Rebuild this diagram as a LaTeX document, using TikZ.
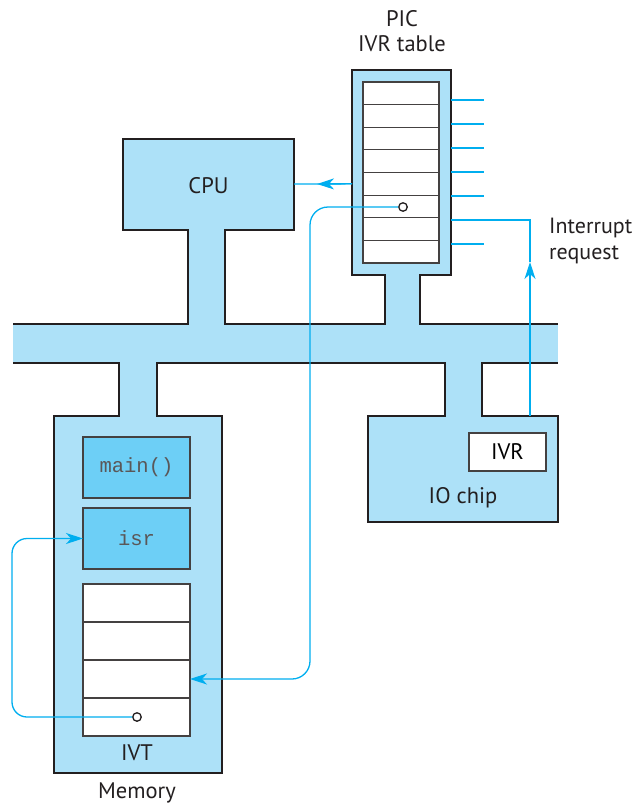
\documentclass[tikz,border=0pt]{standalone}
\usepackage{fontspec}
\setmainfont{PT Sans}
\newfontfamily\monof{Liberation Mono}
\usetikzlibrary{arrows.meta,calc}
\definecolor{lb}{HTML}{ADE1F8}
\definecolor{db}{HTML}{6DCFF6}
\definecolor{cy}{HTML}{00AEEF}
\definecolor{ink}{HTML}{231F20}
\begin{document}
\begin{tikzpicture}[x=1pt,y=-1pt,
  box/.style={draw=ink,line width=2.6pt,fill=lb,inner sep=0pt,outer sep=0pt,anchor=north west},
  outline/.style={draw=ink,line width=2.6pt,line cap=rect},
  stemfill/.style={fill=lb},
  row/.style={draw=ink!85,line width=1.2pt,fill=white,inner sep=0pt,outer sep=0pt,anchor=north west},
  code/.style={draw=ink!85,line width=1.5pt,fill=db,inner sep=0pt,outer sep=0pt,anchor=north west,text=ink!75,font=\monof\fontsize{20.5}{24}\selectfont},
  lbl/.style={font=\fontsize{22.5}{26}\selectfont,text=ink,inner sep=0pt,anchor=base},
  blueline/.style={draw=cy,line width=1.3pt},
  tip/.style={-{Stealth[length=17pt,width=11pt,inset=5pt]}},
  dot/.style={circle,draw=ink,line width=1.3pt,fill=white,minimum size=8.5pt,inner sep=0pt}]
\useasboundingbox (0,0) rectangle (633,803);

% bus
\node[fill=lb,inner sep=0pt,outer sep=0pt,anchor=north west,minimum width=545pt,minimum height=39pt] (bus) at (13,324) {};
\draw[draw=ink,line width=2.6pt] (bus.north west) -- (bus.north east) (bus.south west) -- (bus.south east);

% boxes
\node[box,minimum width=171pt,minimum height=91pt] (cpu) at (123,139) {};
\node[box,minimum width=99pt,minimum height=205pt] (pic) at (352,70) {};
\node[box,minimum width=168pt,minimum height=357pt] (mem) at (54,416) {};
\node[box,minimum width=190pt,minimum height=106pt] (io) at (368,416) {};

% stems
\fill[stemfill] (188,228) rectangle (225,326);
\draw[outline] (188,230) -- (188,324) (225,230) -- (225,324);
\fill[stemfill] (385,273) rectangle (420,326);
\draw[outline] (385,275) -- (385,324) (420,275) -- (420,324);
\fill[stemfill] (119,361) rectangle (157,418);
\draw[outline] (119,363) -- (119,416) (157,363) -- (157,416);
\fill[stemfill] (445,361) rectangle (482,418);
\draw[outline] (445,363) -- (445,416) (482,363) -- (482,416);

% labels
\node[lbl] (cpul) at (208.5,193) {CPU};
\node[lbl] (picl) at (402,26) {PIC};
\node[lbl] (ivrtl) at (402,51) {IVR table};
\node[lbl] (ivtl) at (137,760) {IVT};
\node[lbl] (meml) at (137,798) {Memory};
\node[lbl] (iol) at (463,503) {IO chip};
\node[lbl,anchor=base west,align=left,font=\fontsize{22}{26}\selectfont] (irq) at (549,259) {Interrupt\\request};

% PIC table rows
\node[row,minimum width=76pt,minimum height=22.625pt] (pr1) at (363,82) {};
\foreach \i [remember=\i as \j (initially 1)] in {2,...,8}
  \node[row,minimum width=76pt,minimum height=22.625pt] (pr\i) at (pr\j.south west) {};

% memory contents
\node[code,minimum width=107pt,minimum height=61pt] (main) at (83,437) {main()};
\node[code,minimum width=107pt,minimum height=61pt] (isr) at (83,508) {isr};
\node[row,minimum width=107pt,minimum height=38pt] (iv1) at (83,584) {};
\foreach \i [remember=\i as \j (initially 1)] in {2,...,4}
  \node[row,minimum width=107pt,minimum height=38pt] (iv\i) at (iv\j.south west) {};

% IVR
\node[row,draw=ink!85,minimum width=77pt,minimum height=38pt,font=\fontsize{22.5}{26}\selectfont] (ivr) at (469,433) {IVR};

% PIC input lines
\foreach \y in {100,124,148,172,196,244}
  \draw[blueline] (pic.east |- 0,\y) -- (484,\y);

% interrupt request
\coordinate (irb) at (530,416);
\coordinate (irm) at (530,262);
\coordinate (irt) at (530,220);
\draw[blueline,tip] (irb) -- (irm);
\draw[blueline] (irm) -- (irt) -- (pic.east |- irt);

% PIC to CPU
\coordinate (pcm) at (317,184);
\draw[blueline] (pr5.center -| pic.west) -- (cpu.east |- pcm);
\draw[blueline,tip] (pr5.center -| pic.west) -- (pcm);

% PIC entry to IVT
\node[dot] (d1) at (403,207) {};
\coordinate (c1) at (310,207);
\coordinate (c2) at (310,679);
\draw[blueline,tip,rounded corners=18pt] (d1.west) -- (c1) -- (c2) -- (iv3.east);

% IVT entry to isr
\node[dot] (d2) at (137,717) {};
\coordinate (c3) at (12,717);
\coordinate (c4) at (12,538.5);
\draw[blueline,tip,rounded corners=15pt] (d2.west) -- (c3) -- (c4) -- (isr.west);
\end{tikzpicture}
\end{document}
